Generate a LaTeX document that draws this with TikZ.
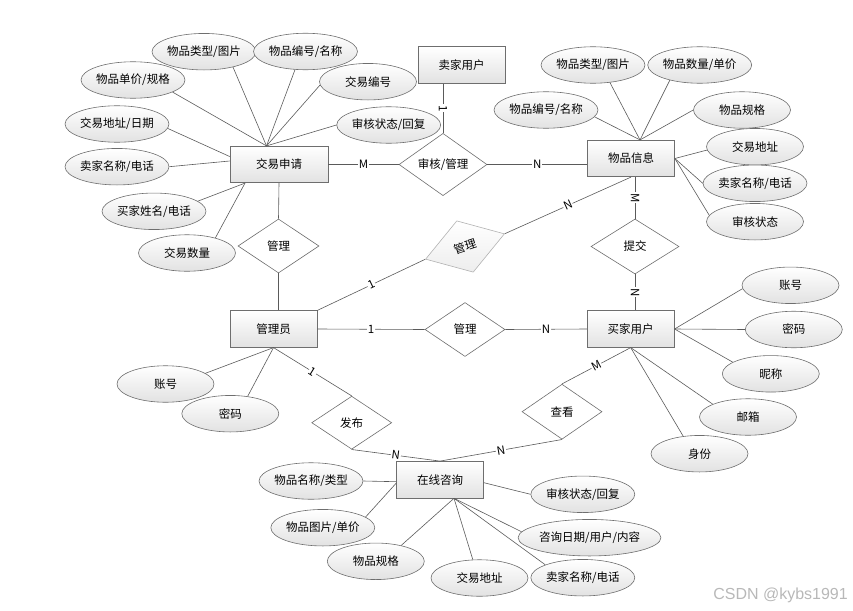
\documentclass[tikz,border=0pt]{standalone}
\usepackage{fontspec}
\setmainfont{Noto Sans CJK SC}
\newfontfamily\wmfont{Liberation Sans}
\usetikzlibrary{shapes.geometric,calc}
\definecolor{bordc}{HTML}{6E6E6E}
\definecolor{linec}{HTML}{5A5A5A}
\definecolor{shadec}{HTML}{E2E2E2}
\begin{document}
\begin{tikzpicture}[x=1pt,y=-1pt,
  every node/.style={font=\fontsize{11.5}{13}\selectfont},
  ent/.style={draw=bordc, line width=0.7pt, rectangle, minimum width=87pt, minimum height=36.5pt, inner sep=0pt, top color=white, bottom color=shadec},
  attr/.style={draw=bordc, line width=0.6pt, ellipse, minimum width=97pt, minimum height=36.5pt, inner sep=0pt, top color=white, bottom color=shadec},
  rel/.style={draw=bordc, line width=0.6pt, diamond, inner sep=0pt, minimum width=80pt, minimum height=54pt, fill=white},
  lnk/.style={draw=linec, line width=0.6pt},
  card/.style={fill=white, inner sep=0.8pt, sloped, font=\fontsize{11.5}{12}\selectfont}
]
\useasboundingbox (0,0) rectangle (853,610);

% entities
\node[ent, minimum width=98pt] (jysq) at (279,164.5) {交易申请};
\node[ent] (mjyh) at (461.5,65) {卖家用户};
\node[ent] (wpxx) at (631,158.5) {物品信息};
\node[ent] (gly) at (273.5,329) {管理员};
\node[ent] (buyer) at (630.7,329) {买家用户};
\node[ent] (zx) at (440,479.7) {在线咨询};

% relationships
\node[rel, minimum width=88pt, minimum height=55pt] (shgl) at (443,164.5) {审核/管理};
\node[rel, minimum width=81pt] (gl1) at (278.5,246) {管理};
\node[rel, draw=black!30, minimum width=83pt, minimum height=54pt, rotate=17.8, top color=white, bottom color=black!7] (gl2) at (465,246.5) {管理};
\node[rel] (gl3) at (465,329.5) {管理};
\node[rel, minimum width=88pt, minimum height=55pt] (tj) at (635,246.5) {提交};
\node[rel, minimum height=53pt] (fb) at (351.7,422.7) {发布};
\node[rel, minimum height=55pt] (ck) at (562,411.7) {查看};

% relationship connectors
\draw[lnk] (jysq.east) -- node[card]{M} (shgl.west);
\draw[lnk] (shgl.east) -- node[card]{N} (shgl.east -| wpxx.west);
\draw[lnk] (mjyh.south -| shgl.north) -- node[card]{1} (shgl.north);
\draw[lnk] (jysq.south) -- (gl1.north);
\draw[lnk] (gl1.south) -- (gl1.south |- gly.north);
\draw[lnk] (gly.north east) -- node[card]{1} (gl2.west);
\draw[lnk] (gl2.east) -- node[card]{N} (wpxx.south);
\draw[lnk] (wpxx.south -| tj.north) -- node[card]{M} (tj.north);
\draw[lnk] (tj.south) -- node[card]{N} (tj.south |- buyer.north);
\draw[lnk] (gly.east) -- node[card]{1} (gl3.west);
\draw[lnk] (gl3.east) -- node[card]{N} (buyer.west);
\draw[lnk] (gly.south) -- node[card]{1} (fb.north);
\draw[lnk] (fb.south) -- node[card]{N} (zx.north);
\draw[lnk] (ck.south) -- node[card]{N} (zx.north);
\draw[lnk] (ck.north) -- node[card]{M} (buyer.south);

% attribute anchor points
\coordinate (jt) at ($(jysq.north)+(-12.5,0)$);
\coordinate (jb) at ($(jysq.south)+(-34,0)$);
\coordinate (wt) at ($(wpxx.north)+(9,0)$);
\coordinate (zb) at ($(zx.south)+(14,0)$);

% attributes of 交易申请
\node[attr] (a1) at (204,51.7) {物品类型/图片};
\node[attr] (a2) at (305.5,51.5) {物品编号/名称};
\node[attr] (a3) at (133,80) {物品单价/规格};
\node[attr] (a4) at (368,81.7) {交易编号};
\node[attr] (a5) at (388.7,125) {审核状态/回复};
\node[attr] (a6) at (117,124) {交易地址/日期};
\node[attr] (a7) at (117,166.7) {卖家名称/电话};
\node[attr] (a8) at (154,211.3) {买家姓名/电话};
\node[attr] (a9) at (187,253) {交易数量};
\draw[lnk] (a1.-28) -- (jt);
\draw[lnk] (a2.-120) -- (jt);
\draw[lnk] (a3.-17) -- (jt);
\draw[lnk] (a4.-176) -- (jt);
\draw[lnk] (a5.west) -- (jt);
\draw[lnk] (a6.-5) -- ($(jysq.west)+(0,-8)$);
\draw[lnk] (a7.east) -- ($(jysq.west)+(0,-3.5)$);
\draw[lnk] (a8.13) -- (jb);
\draw[lnk] (a9.28) -- (jb);

% attributes of 物品信息
\node[attr] (b1) at (546,110) {物品编号/名称};
\node[attr] (b2) at (593,65) {物品类型/图片};
\node[attr] (b3) at (699.7,65) {物品数量/单价};
\node[attr] (b4) at (742,110) {物品规格};
\node[attr] (b5) at (755,146.7) {交易地址};
\node[attr] (b6) at (755,183.3) {卖家名称/电话};
\node[attr] (b7) at (755,221.7) {审核状态};
\draw[lnk] (b1.-8) -- (wt);
\draw[lnk] (b2.-46) -- (wt);
\draw[lnk] (b3.-153) -- (wt);
\draw[lnk] (b4.west) -- (wt);
\draw[lnk] (b5.-176) -- (wpxx.east);
\draw[lnk] (b6.west) -- (wpxx.east);
\draw[lnk] (b7.172) -- (wpxx.east);

% attributes of 买家用户
\node[attr] (c1) at (790.5,285.3) {账号};
\node[attr] (c2) at (793.8,329.5) {密码};
\node[attr] (c3) at (770.8,373.8) {昵称};
\node[attr] (c4) at (748,417) {邮箱};
\node[attr] (c5) at (699.5,453.7) {身份};
\draw[lnk] (c1.-176) -- (buyer.east);
\draw[lnk] (c2.west) -- (buyer.east);
\draw[lnk] (c3.163) -- (buyer.east);
\draw[lnk] (c4.160) -- (buyer.south);
\draw[lnk] (c5.133) -- (buyer.south);

% attributes of 管理员
\node[attr] (d1) at (165.5,384) {账号};
\node[attr] (d2) at (230.3,413.7) {密码};
\draw[lnk] (d1.15) -- (gly.south);
\draw[lnk] (d2.45) -- (gly.south);

% attributes of 在线咨询
\node[attr] (e1) at (311,481) {物品名称/类型};
\node[attr] (e2) at (322.8,527.7) {物品图片/单价};
\node[attr] (e3) at (375.8,561.3) {物品规格};
\node[attr] (e4) at (479.5,578) {交易地址};
\node[attr] (e5) at (582.8,577.7) {卖家名称/电话};
\node[attr, minimum width=111pt] (e6) at (589.5,537.7) {咨询日期/用户/内容};
\node[attr] (e7) at (582.8,494.3) {审核状态/回复};
\draw[lnk] (e1.east) -- ($(zx.west)+(0,2)$);
\draw[lnk] (e2.14) -- ($(zx.west)+(0,3.5)$);
\draw[lnk] (e3.32) -- (zb);
\draw[lnk] (e4.110) -- (zb);
\draw[lnk] (e5.161) -- (zb);
\draw[lnk] (e6.175) -- (zb);
\draw[lnk] (e7.west) -- ($(zx.east)+(0,3)$);

% watermark
\node[font=\wmfont\fontsize{16}{17}\selectfont, text=black!28, anchor=east, inner sep=0pt] (wm) at (848,595) {CSDN @kybs1991};
\end{tikzpicture}
\end{document}
